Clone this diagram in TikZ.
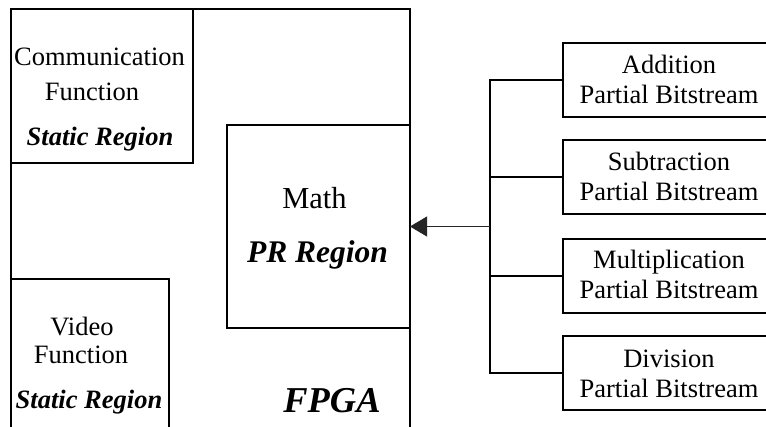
\documentclass[tikz,border=0pt]{standalone}
\usepackage{fontspec}
\setmainfont{Liberation Serif}
\usetikzlibrary{arrows.meta}

\begin{document}
\begin{tikzpicture}[x=1pt, y=-1pt,
  region/.style={draw, line width=2pt, inner sep=0pt, outer sep=0pt, anchor=north west},
  bitbox/.style={draw, line width=2pt, inner sep=0pt, outer sep=0pt,
                 minimum width=213pt, minimum height=74pt},
  lbl/.style={inner sep=0pt, anchor=base, font=\fontsize{26.5}{32}\selectfont},
  blbl/.style={lbl, font=\fontsize{26.5}{32}\selectfont\bfseries\itshape},
  wire/.style={line width=2pt},
  feed/.style={line width=1pt, draw=black!85, -{Triangle[length=17pt, width=20pt]}}
]
\useasboundingbox (0,0) rectangle (766,426);
\clip (0,0) rectangle (766,426);

% FPGA device and its regions (open at the bottom edge)
\node[region, minimum width=399pt, minimum height=450pt] (fpga) at (11,9) {};
\node[region, minimum width=182pt, minimum height=154pt] (comm) at (11,9) {};
\node[region, minimum width=183pt, minimum height=203pt] (math) at (227,125) {};
\node[region, minimum width=158pt, minimum height=180pt] (video) at (11,279) {};

% region labels
\node[lbl]  (commA) at (99.5,65)  {Communication};
\node[lbl]  (commB) at (92,100)   {Function};
\node[blbl] (commC) at (100,145)  {Static Region};

\node[lbl, font=\fontsize{30.5}{36}\selectfont] (mathA) at (314.5,208) {Math};
\node[blbl, font=\fontsize{31.5}{36}\selectfont\bfseries\itshape] (mathB) at (317.5,262) {PR Region};

\node[lbl]  (vidA) at (82,335)  {Video};
\node[lbl]  (vidB) at (81,363)  {Function};
\node[blbl] (vidC) at (89,408)  {Static Region};

\node[blbl, font=\fontsize{36.4}{40}\selectfont\bfseries\itshape] (fpgaL) at (332,412) {FPGA};

% partial bitstreams
\node[bitbox] (add) at (669.5,80)    {};
\node[bitbox] (sub) at (669.5,176.5) {};
\node[bitbox] (mul) at (669.5,275.5) {};
\node[bitbox] (div) at (669.5,373)   {};

\node[lbl] (addA) at (669,73)  {Addition};
\node[lbl] (addB) at (669,103) {Partial Bitstream};
\node[lbl] (subA) at (669,170) {Subtraction};
\node[lbl] (subB) at (669,200) {Partial Bitstream};
\node[lbl] (mulA) at (669,268) {Multiplication};
\node[lbl] (mulB) at (669,298) {Partial Bitstream};
\node[lbl] (divA) at (669,367) {Division};
\node[lbl] (divB) at (669,397) {Partial Bitstream};

% bus collecting the bitstreams and feeding the PR region
\coordinate (hub) at (490,226.5);
\draw[wire] (add.west) -- (add.west -| hub) -- (div.west -| hub) -- (div.west);
\draw[wire] (sub.west) -- (sub.west -| hub);
\draw[wire] (mul.west) -- (mul.west -| hub);
\draw[feed] (hub) -- (math.east);
\end{tikzpicture}
\end{document}
